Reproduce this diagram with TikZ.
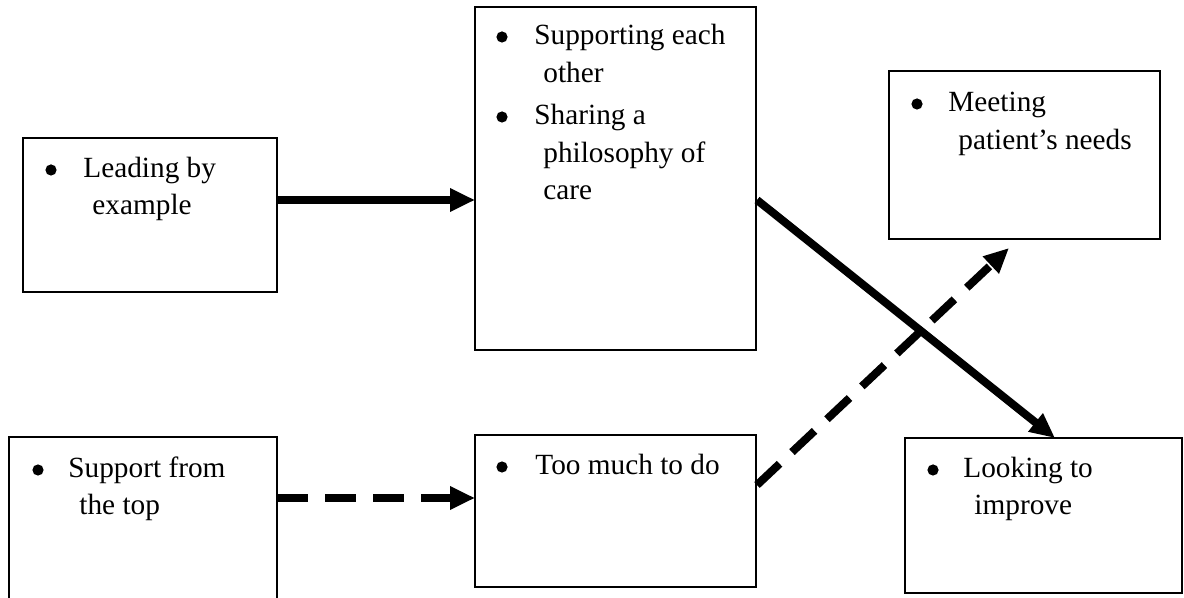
\documentclass[tikz,border=0pt]{standalone}
\usepackage{fontspec}
\setmainfont{Liberation Serif}
\usetikzlibrary{arrows.meta,calc}
\tikzset{
  box/.style={draw, line width=1pt, inner sep=0pt, outer sep=0pt, anchor=north west},
  txt/.style={anchor=base west, inner sep=0pt, font=\fontsize{14.65pt}{19pt}\selectfont},
  bul/.style={circle, fill, inner sep=0pt, minimum size=5.6pt},
  arr/.style={line width=4pt, -{Triangle[length=12.5pt,width=11pt]}},
  darr/.style={arr, dash pattern=on 15.5pt off 8.5pt},
}
\begin{document}
\begin{tikzpicture}[x=0.5pt,y=0.5pt]
\clip (0,0) rectangle (1184,-598);
% boxes
\node[box, minimum width=127pt, minimum height=77pt] (b1) at (23,-138) {};
\node[box, minimum width=140.5pt, minimum height=171.5pt] (b2) at (475,-7) {};
\node[box, minimum width=135.5pt, minimum height=84pt] (b3) at (889,-71) {};
\node[box, minimum width=134pt, minimum height=86.5pt] (b4) at (9,-437) {};
\node[box, minimum width=140.5pt, minimum height=76pt] (b5) at (475,-435) {};
\node[box, minimum width=138.5pt, minimum height=77.5pt] (b6) at (905,-438) {};
% texts box 1
\node[bul] (b1d1) at ($(b1.north west)+(28,-32)$) {};
\node[txt] (b1t1) at ($(b1.north west)+(60,-40)$) {Leading by};
\node[txt] (b1t2) at ($(b1.north west)+(69,-77)$) {example};
% box 2
\node[bul] (b2d1) at ($(b2.north west)+(27,-30)$) {};
\node[txt] (b2t1) at ($(b2.north west)+(59,-38)$) {Supporting each};
\node[txt] (b2t2) at ($(b2.north west)+(68,-76)$) {other};
\node[bul] (b2d2) at ($(b2.north west)+(27,-110)$) {};
\node[txt] (b2t3) at ($(b2.north west)+(59,-118)$) {Sharing a};
\node[txt] (b2t4) at ($(b2.north west)+(68,-156)$) {philosophy of};
\node[txt] (b2t5) at ($(b2.north west)+(68,-193)$) {care};
% box 3
\node[bul] (b3d1) at ($(b3.north west)+(28,-33)$) {};
\node[txt] (b3t1) at ($(b3.north west)+(59,-41)$) {Meeting};
\node[txt] (b3t2) at ($(b3.north west)+(69,-79)$) {patient’s needs};
% box 4
\node[bul] (b4d1) at ($(b4.north west)+(29,-33)$) {};
\node[txt] (b4t1) at ($(b4.north west)+(59,-41)$) {Support from};
\node[txt] (b4t2) at ($(b4.north west)+(70,-78)$) {the top};
% box 5
\node[bul] (b5d1) at ($(b5.north west)+(27,-32)$) {};
\node[txt] (b5t1) at ($(b5.north west)+(60,-40)$) {Too much to do};
% box 6
\node[bul] (b6d1) at ($(b6.north west)+(28,-32)$) {};
\node[txt] (b6t1) at ($(b6.north west)+(58,-40)$) {Looking to};
\node[txt] (b6t2) at ($(b6.north west)+(69,-77)$) {improve};
% arrows
\draw[arr] ($(b1.north east)+(0,-62)$) -- ($(b2.north west)+(0,-193)$);
\draw[arr] ($(b2.north east)+(1,-193)$) -- ($(b6.north west)+(150,0)$);
\draw[darr] ($(b4.north east)+(0,-61)$) -- ($(b5.north west)+(0,-63)$);
\draw[darr] ($(b5.north east)+(1,-50)$) -- ($(b3.south west)+(120,-9)$);
\end{tikzpicture}
\end{document}
